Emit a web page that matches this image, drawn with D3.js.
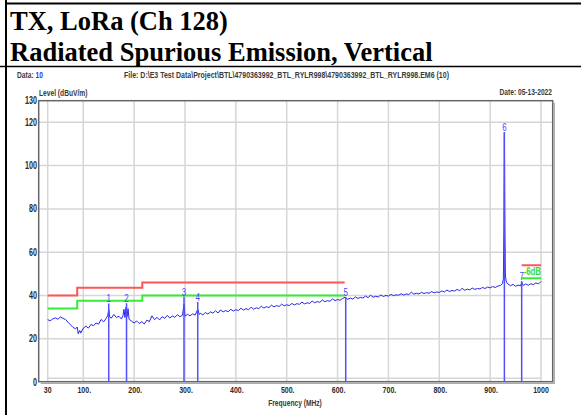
<!DOCTYPE html>
<html>
<head>
<meta charset="utf-8">
<script src="https://cdn.jsdelivr.net/npm/d3@7"></script>
<style>
  html, body { margin: 0; padding: 0; background: #fff; }
  svg { display: block; }
</style>
</head>
<body>
<svg id="chart" width="581" height="415"></svg>
<script>
// ---- Data ----
const titleLines = ["TX, LoRa (Ch 128)", "Radiated Spurious Emission, Vertical"];

const xTicks = [30, 100, 200, 300, 400, 500, 600, 700, 800, 900, 1000];
const xTickLabels = ["30", "100.", "200.", "300.", "400.", "500.", "600.", "700.", "800.", "900.", "1000"];
const yTicks = [0, 20, 40, 60, 80, 100, 120, 130];
const yGrid = [20, 40, 60, 80, 100, 120];

// limit line steps (MHz, dBuV/m); null breaks the line
const limitFreq  = [30, 88, 88, 216, 216, 614, null, 962, 1000];
const limitLevel = [40, 40, 43.5, 43.5, 46, 46, null, 54, 54];
const marginDb = 6;

// markers
const markerId    = ["1", "2", "3", "4", "5", "6", "7"];
const markerFreq  = [150, 185, 298, 325, 616, 928, 962];
const markerLevel = [36.3, 36.4, 39.4, 37.0, 39.2, 115.5, 46.7];

// measured trace [MHz, dBuV/m]
const trace = [
  [30,28.8],[35,28.3],[40,29.2],[45,29.6],[50,29.0],[55,30.1],[60,29.4],[65,28.9],[70,27.6],[75,26.4],
  [80,25.2],[85,24.6],[88,25.4],[90,22.3],[93,23.8],[95,22.6],[100,24.9],[105,25.8],[110,24.9],[115,26.6],
  [120,26.0],[125,27.3],[130,26.7],[135,28.9],[140,27.8],[145,29.4],[148,30.6],[150,33.8],[152,30.1],[155,29.5],
  [160,31.2],[165,29.8],[170,30.4],[175,29.1],[178,30.6],[180,33.6],[182,29.8],[184,34.6],[186,30.2],[188,33.9],
  [190,29.0],[195,28.1],[200,27.3],[205,28.2],[210,27.0],[215,27.9],[220,26.8],[225,28.6],[230,27.9],[235,30.6],
  [240,28.8],[245,29.9],[250,28.7],[255,30.2],[260,29.4],[265,30.8],[270,29.6],[275,30.5],[280,29.9],[285,31.1],
  [290,30.2],[295,30.8],[298,35.9],[300,30.4],[305,31.3],[310,30.6],[315,31.5],[320,30.9],[325,33.6],[328,31.2],
  [330,31.8],[335,31.0],[340,32.1],[345,31.4],[350,32.4],[355,31.8],[360,32.9],[365,31.9],[370,33.3],[375,32.4],
  [380,33.0],[385,32.5],[390,33.6],[395,32.8],[400,33.4],[405,33.0],[410,34.1],[415,33.2],[420,33.9],[425,33.4],
  [430,34.6],[435,33.6],[440,34.3],[445,33.9],[450,35.0],[455,34.2],[460,34.8],[465,34.4],[470,35.5],[475,34.7],
  [480,35.3],[485,34.9],[490,36.0],[495,35.2],[500,35.7],[505,35.3],[510,36.3],[515,35.6],[520,36.2],[525,35.9],
  [530,36.9],[535,36.1],[540,36.6],[545,36.3],[550,37.4],[555,36.6],[560,37.2],[565,36.8],[570,37.9],[575,37.1],
  [580,37.6],[585,37.3],[590,38.4],[595,37.6],[600,38.1],[605,37.8],[610,38.6],[615,39.2],[620,38.2],[625,38.8],
  [630,38.3],[635,39.3],[640,38.6],[645,39.1],[650,38.8],[655,39.7],[660,39.0],[665,40.1],[670,39.2],[675,39.6],
  [680,39.3],[685,40.2],[690,39.5],[695,40.0],[700,39.7],[705,40.5],[710,39.9],[715,40.3],[720,40.1],[725,40.8],
  [730,40.2],[735,40.7],[740,40.4],[745,41.5],[750,40.6],[755,41.0],[760,40.7],[765,41.4],[770,40.9],[775,41.3],
  [780,41.0],[785,41.8],[790,41.2],[795,41.6],[800,41.4],[805,42.1],[810,41.6],[815,42.5],[820,41.8],[825,42.3],
  [830,42.0],[835,42.8],[840,42.2],[845,43.3],[850,42.4],[855,42.9],[860,42.6],[865,43.4],[870,42.8],[875,43.2],
  [880,43.0],[885,43.7],[890,43.2],[895,43.9],[900,43.5],[905,44.1],[910,43.7],[915,44.3],[920,44.6],[924,45.4],
  [926,47.5],[927,70.0],[928,115.3],[929,72.0],[930,49.0],[932,46.2],[935,45.3],[940,44.5],[945,45.1],[950,44.2],
  [955,44.8],[960,44.4],[962,46.2],[965,44.6],[970,45.3],[975,44.7],[980,45.4],[985,45.0],[990,45.8],[995,45.3],
  [1000,46.5]
];

// ---- Layout ----
const svg = d3.select("#chart");
const frame = { left: 38.7, top: 100.7, right: 552.7, bottom: 381.7 };

const x = d3.scaleLinear().domain([30, 1000]).range([47.7, 541]);
const y = d3.scaleLinear().domain([0, 130]).range([382, 100.7]);

// condensed sans text: Arial-metric font squeezed horizontally
const SANS = "'Liberation Sans', Arial, sans-serif";
function narrow(sel, sx) {
  return sel.append("text")
    .attr("transform", `scale(${sx},1)`)
    .attr("font-family", SANS)
    .attr("font-weight", "bold");
}
function label(parent, px, py, str, o = {}) {
  const g = parent.append("g").attr("transform", `translate(${px},${py})`);
  return narrow(g, o.sx || 0.74)
    .attr("font-size", o.size || 9.5)
    .attr("text-anchor", o.anchor || "start")
    .attr("fill", o.fill || "#3a3a3a")
    .text(str);
}

// ---- Report table lines and title ----
svg.append("line").attr("x1", 6).attr("x2", 6).attr("y1", 0).attr("y2", 415)
  .attr("stroke", "#000").attr("stroke-width", 2);
svg.append("line").attr("x1", 5).attr("x2", 581).attr("y1", 3.5).attr("y2", 3.5)
  .attr("stroke", "#000").attr("stroke-width", 2);
svg.append("line").attr("x1", 0).attr("x2", 581).attr("y1", 66.5).attr("y2", 66.5)
  .attr("stroke", "#000").attr("stroke-width", 1.5);

svg.selectAll("text.title").data(titleLines).join("text")
  .attr("class", "title")
  .attr("x", 10)
  .attr("y", (d, i) => i === 0 ? 30 : 61)
  .attr("font-family", "'Liberation Serif', 'Times New Roman', serif")
  .attr("font-weight", "bold")
  .attr("font-size", 26.5)
  .attr("fill", "#000")
  .text(d => d);

// ---- Header row ----
const hdr = label(svg, 17, 78, "Data: ", { size: 9 });
hdr.append("tspan").attr("fill", "#2233ff").text("10");

svg.append("text")
  .attr("x", 124).attr("y", 78)
  .attr("font-family", SANS).attr("font-weight", "bold")
  .attr("font-size", 8.5).attr("fill", "#3a3a3a")
  .attr("textLength", 325).attr("lengthAdjust", "spacingAndGlyphs")
  .text("File: D:\\E3 Test Data\\Project\\BTL\\4790363992_BTL_RYLR998\\4790363992_BTL_RYLR998.EM6  (10)");

label(svg, 552, 95, "Date: 05-13-2022", { size: 9, anchor: "end" });
label(svg, 39, 95.5, "Level (dBuV/m)", { size: 9 });

// ---- Grid ----
const grid = svg.append("g").attr("stroke", "#d6d6d6").attr("stroke-width", 1.5);
grid.selectAll("line.v").data(xTicks).join("line")
  .attr("x1", d => x(d)).attr("x2", d => x(d))
  .attr("y1", frame.top).attr("y2", frame.bottom);
grid.selectAll("line.h").data(yGrid).join("line")
  .attr("x1", frame.left).attr("x2", frame.right)
  .attr("y1", d => y(d)).attr("y2", d => y(d));
grid.append("line")
  .attr("x1", x(30)).attr("x2", x(1000))
  .attr("y1", frame.bottom - 3.5).attr("y2", frame.bottom - 3.5);

// ---- Axis labels ----
svg.append("g").selectAll("g").data(yTicks).join("g")
  .attr("transform", d => `translate(37,${y(d) + 3.5})`)
  .each(function(d) {
    narrow(d3.select(this), 0.72)
      .attr("font-size", 10).attr("text-anchor", "end").attr("fill", "#2a2a2a")
      .text(d);
  });

svg.append("g").selectAll("g").data(xTicks).join("g")
  .attr("transform", (d, i) => `translate(${x(d) + (xTickLabels[i].endsWith(".") ? 1 : 0)},393)`)
  .each(function(d, i) {
    narrow(d3.select(this), 0.74)
      .attr("font-size", 9.5).attr("text-anchor", "middle").attr("fill", "#2a2a2a")
      .text(xTickLabels[i]);
  });

label(svg, 295, 406, "Frequency (MHz)", { size: 9, anchor: "middle" });

// ---- Limit lines ----
const limitPts = limitFreq.map((f, i) => [f, limitLevel[i]]);
const limitLine = d3.line()
  .defined(d => d[0] !== null)
  .x(d => x(d[0]))
  .y(d => y(d[1]));

svg.append("path").datum(limitPts)
  .attr("d", limitLine).attr("fill", "none")
  .attr("stroke", "#ff5555").attr("stroke-width", 2);
svg.append("path").datum(limitPts.map(d => [d[0], d[1] === null ? null : d[1] - marginDb]))
  .attr("d", limitLine).attr("fill", "none")
  .attr("stroke", "#33ee33").attr("stroke-width", 2);

label(svg, 541, y(54 - marginDb) - 3, "-" + marginDb + "dB",
  { size: 10, anchor: "end", fill: "#33dd33", sx: 0.78 });

// ---- Trace ----
svg.append("path").datum(trace)
  .attr("d", d3.line().x(d => x(d[0])).y(d => y(d[1])))
  .attr("fill", "none").attr("stroke", "#2626e6").attr("stroke-width", 1);

// ---- Markers ----
const mk = svg.append("g");
mk.selectAll("line").data(markerFreq).join("line")
  .attr("x1", d => x(d)).attr("x2", d => x(d))
  .attr("y1", y(0)).attr("y2", (d, i) => y(markerLevel[i]))
  .attr("stroke", "#5050ff").attr("stroke-width", 1.5);
mk.selectAll("g").data(markerFreq).join("g")
  .attr("transform", (d, i) => `translate(${x(d)},${y(markerLevel[i]) - 1})`)
  .each(function(d, i) {
    d3.select(this).append("text")
      .attr("transform", "scale(0.8,1)")
      .attr("font-family", SANS)
      .attr("font-size", 10).attr("text-anchor", "middle").attr("fill", "#4a4aff")
      .text(markerId[i]);
  });

// ---- Plot frame ----
svg.append("rect")
  .attr("x", frame.left).attr("y", frame.top)
  .attr("width", frame.right - frame.left).attr("height", frame.bottom - frame.top)
  .attr("fill", "none").attr("stroke", "#666").attr("stroke-width", 1.5);
svg.append("path")
  .attr("d", `M${frame.right + 1.5},${frame.top + 2}V${frame.bottom + 1.5}H${frame.left + 2}`)
  .attr("fill", "none").attr("stroke", "#aaa").attr("stroke-width", 1.5);
</script>
</body>
</html>
